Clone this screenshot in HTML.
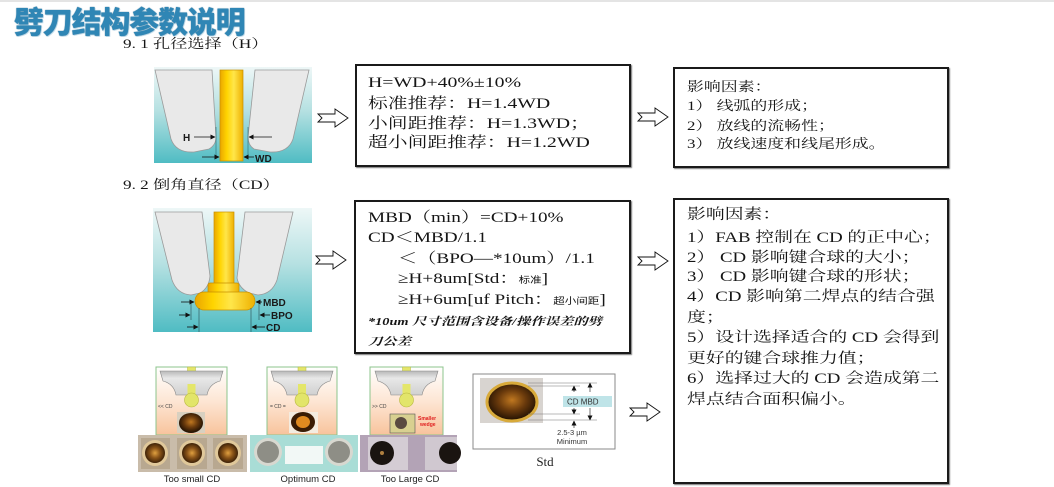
<!DOCTYPE html>
<html><head><meta charset="utf-8">
<style>
html,body{margin:0;padding:0;background:#fff;}
body{width:1054px;height:487px;position:relative;overflow:hidden;font-family:"Liberation Serif","Noto Serif CJK SC",serif;color:#151515;}
.abs{position:absolute;}
.title{position:absolute;left:14px;top:4px;font-family:"Noto Sans CJK SC","WenQuanYi Zen Hei",sans-serif;font-weight:900;font-size:30px;line-height:32px;color:#2f86b5;letter-spacing:-1.2px;white-space:nowrap;text-shadow:0 0 1px #1d5f85, 1px 1px 0 #cfe6f2;}
.box{position:absolute;border:2px solid #1a1a1a;box-sizing:border-box;background:#fff;box-shadow:1px 1px 1px #777;}
.ln{position:absolute;white-space:nowrap;line-height:20px;height:20px;transform-origin:0 50%;}
.b1{font-size:15px;transform:scaleX(1.32);}
.b2{font-size:13px;transform:scaleX(1.3);}
.b3{font-size:15px;transform:scaleX(1.28);}
.b4{font-size:14.5px;transform:scaleX(1.3);}
.hd{font-size:13px;transform:scaleX(1.32);}
.sm{font-size:9px;font-family:"Noto Sans CJK SC",sans-serif;}
.it{font-size:11px;font-weight:bold;font-style:italic;transform:scaleX(1.3);}
</style></head><body>

<svg class="abs" style="left:0;top:0" width="1054" height="487" viewBox="0 0 1054 487">
<defs>
 <linearGradient id="bg" x1="0" y1="0" x2="0" y2="1">
  <stop offset="0" stop-color="#eef7f7"/><stop offset="0.45" stop-color="#b6e1e2"/><stop offset="1" stop-color="#4fbcc3"/>
 </linearGradient>
 <linearGradient id="gold" x1="0" y1="0" x2="1" y2="0">
  <stop offset="0" stop-color="#eaa600"/><stop offset="0.3" stop-color="#ffd400"/><stop offset="0.6" stop-color="#ffe64a"/><stop offset="1" stop-color="#eeb000"/>
 </linearGradient>
 <linearGradient id="peach" x1="0" y1="0" x2="0" y2="1">
  <stop offset="0" stop-color="#ffffff"/><stop offset="0.5" stop-color="#fde6d4"/><stop offset="1" stop-color="#f8c39c"/>
 </linearGradient>
 <linearGradient id="capg" x1="0" y1="0" x2="0" y2="1">
  <stop offset="0" stop-color="#b8b8b8"/><stop offset="0.3" stop-color="#e8e8e8"/><stop offset="1" stop-color="#d0d0d0"/>
 </linearGradient>
 <radialGradient id="brown" cx="0.5" cy="0.5" r="0.5">
  <stop offset="0" stop-color="#e0a040"/><stop offset="0.5" stop-color="#8a5418"/><stop offset="1" stop-color="#3e2208"/>
 </radialGradient>
 <radialGradient id="ring" cx="0.5" cy="0.45" r="0.5">
  <stop offset="0" stop-color="#c07820"/><stop offset="0.55" stop-color="#6a3a0c"/><stop offset="1" stop-color="#2a1604"/>
 </radialGradient>
 <marker id="ah" markerWidth="5" markerHeight="5" refX="4.5" refY="2.5" orient="auto" markerUnits="userSpaceOnUse">
  <path d="M0,0 L5,2.5 L0,5 Z" fill="#111"/>
 </marker>
</defs>

<rect x="0" y="0" width="1054" height="2" fill="#e4e4e4"/>

<!-- Image 1 -->
<g transform="translate(154,67)">
 <rect width="158" height="96" fill="url(#bg)"/>
 <path d="M1,3 L58,3 L62,70 Q62,78 55,82 L40,85 Q22,86 17,72 Z" fill="#e9e9e9" stroke="#9a9a9a" stroke-width="0.8"/>
 <path d="M101,3 L155,3 L139,72 Q134,86 116,85 L100,82 Q94,78 94,70 Z" fill="#e9e9e9" stroke="#9a9a9a" stroke-width="0.8"/>
 <rect x="66" y="3" width="23" height="91" fill="url(#gold)" stroke="#c89000" stroke-width="0.7"/>
 <line x1="62" y1="60" x2="62" y2="92" stroke="#2b6b70" stroke-width="0.6"/>
 <line x1="94" y1="60" x2="94" y2="92" stroke="#2b6b70" stroke-width="0.6"/>
 <line x1="40" y1="70" x2="61" y2="70" stroke="#111" stroke-width="0.8" marker-end="url(#ah)"/>
 <line x1="118" y1="70" x2="95" y2="70" stroke="#111" stroke-width="0.8" marker-end="url(#ah)"/>
 <text x="29" y="74" font-family="Liberation Sans" font-weight="bold" font-size="10" fill="#1a1a1a">H</text>
 <line x1="48" y1="90" x2="65" y2="90" stroke="#111" stroke-width="0.8" marker-end="url(#ah)"/>
 <line x1="100" y1="90" x2="90" y2="90" stroke="#111" stroke-width="0.8" marker-end="url(#ah)"/>
 <text x="101" y="95" font-family="Liberation Sans" font-weight="bold" font-size="10" fill="#1a1a1a">WD</text>
</g>

<!-- Image 2 -->
<g transform="translate(153,208)">
 <rect width="159" height="124" fill="url(#bg)"/>
 <path d="M2,4 L49,4 L57,68 Q56,80 47,85 L38,87 Q24,86 19,72 Z" fill="#e9e9e9" stroke="#9a9a9a" stroke-width="0.8"/>
 <path d="M92,4 L140,4 L124,72 Q119,86 105,87 L96,85 Q86,80 84,70 Z" fill="#e9e9e9" stroke="#9a9a9a" stroke-width="0.8"/>
 <rect x="61" y="4" width="20" height="72" fill="url(#gold)" stroke="#c89000" stroke-width="0.7"/>
 <rect x="55" y="75" width="31" height="11" rx="2" fill="url(#gold)" stroke="#c89000" stroke-width="0.7"/>
 <rect x="42" y="84" width="60" height="18" rx="9" fill="url(#gold)" stroke="#c89000" stroke-width="0.7"/>
 <line x1="28" y1="94" x2="41" y2="94" stroke="#111" stroke-width="0.8" marker-end="url(#ah)"/>
 <line x1="109" y1="94" x2="103" y2="94" stroke="#111" stroke-width="0.8" marker-end="url(#ah)"/>
 <text x="110" y="98" font-family="Liberation Sans" font-weight="bold" font-size="10" fill="#1a1a1a">MBD</text>
 <line x1="38" y1="96" x2="38" y2="112" stroke="#2b4b50" stroke-width="0.6"/>
 <line x1="106" y1="96" x2="106" y2="112" stroke="#2b4b50" stroke-width="0.6"/>
 <line x1="26" y1="107" x2="37" y2="107" stroke="#111" stroke-width="0.8" marker-end="url(#ah)"/>
 <line x1="117" y1="107" x2="107" y2="107" stroke="#111" stroke-width="0.8" marker-end="url(#ah)"/>
 <text x="118" y="111" font-family="Liberation Sans" font-weight="bold" font-size="10" fill="#1a1a1a">BPO</text>
 <line x1="46" y1="100" x2="46" y2="124" stroke="#2b4b50" stroke-width="0.6"/>
 <line x1="98" y1="100" x2="98" y2="124" stroke="#2b4b50" stroke-width="0.6"/>
 <line x1="34" y1="119" x2="45" y2="119" stroke="#111" stroke-width="0.8" marker-end="url(#ah)"/>
 <line x1="112" y1="119" x2="99" y2="119" stroke="#111" stroke-width="0.8" marker-end="url(#ah)"/>
 <text x="113" y="123" font-family="Liberation Sans" font-weight="bold" font-size="10" fill="#1a1a1a">CD</text>
</g>

<!-- Arrows -->
<g fill="#fff" stroke="#111" stroke-width="0.9">
 <polygon points="318,114 335,114 335,109 348,118 335,127 335,122 318,122 322,118"/>
 <polygon points="638,113 655,113 655,108 668,117 655,126 655,121 638,121 642,117"/>
 <polygon points="316,256 333,256 333,251 346,260 333,269 333,264 316,264 320,260"/>
 <polygon points="638,257 655,257 655,252 668,261 655,270 655,265 638,265 642,261"/>
 <polygon points="630,408 647,408 647,403 660,412 647,421 647,416 630,416 634,412"/>
</g>

<!-- Bottom panels -->
<g>
 <rect x="156" y="367" width="71" height="68" fill="url(#peach)" stroke="#8cc48c" stroke-width="1"/>
 <rect x="187.5" y="367" width="8" height="10" fill="#e4e66a" stroke="#b8b840" stroke-width="0.5"/>
 <path d="M160,371 L223,371 L220,381 Q209,384 207,395 L176,395 Q174,384 163,381 Z" fill="url(#capg)" stroke="#888" stroke-width="0.6"/>
 <rect x="187.5" y="384" width="8" height="11" fill="#e4e66a"/>
 <circle cx="191.5" cy="400" r="7" fill="#e2e56a" stroke="#b8b840" stroke-width="0.6"/>
 <text x="158" y="408" font-family="Liberation Sans" font-size="5" fill="#444">&lt;&lt; CD</text>
 <rect x="177" y="412" width="28" height="21" fill="#d8d0c0"/>
 <ellipse cx="191" cy="423" rx="12" ry="10" fill="url(#ring)"/>

 <rect x="267" y="367" width="70" height="68" fill="url(#peach)" stroke="#8cc48c" stroke-width="1"/>
 <rect x="298" y="367" width="8" height="10" fill="#e4e66a" stroke="#b8b840" stroke-width="0.5"/>
 <path d="M271,371 L333,371 L330,381 Q319,384 317,395 L287,395 Q285,384 274,381 Z" fill="url(#capg)" stroke="#888" stroke-width="0.6"/>
 <rect x="298" y="384" width="8" height="11" fill="#e4e66a"/>
 <circle cx="302" cy="400" r="7" fill="#e2e56a" stroke="#b8b840" stroke-width="0.6"/>
 <text x="270" y="408" font-family="Liberation Sans" font-size="5" fill="#444">= CD =</text>
 <rect x="289" y="412" width="29" height="21" fill="#f4ece0"/>
 <ellipse cx="303" cy="422" rx="12" ry="10" fill="#3a1c04"/>
 <ellipse cx="303" cy="422" rx="7" ry="6" fill="#e08a20"/>

 <rect x="370" y="367" width="73" height="68" fill="url(#peach)" stroke="#8cc48c" stroke-width="1"/>
 <rect x="402.5" y="367" width="8" height="10" fill="#e4e66a" stroke="#b8b840" stroke-width="0.5"/>
 <path d="M375,371 L438,371 L435,381 Q424,384 422,395 L391,395 Q389,384 378,381 Z" fill="url(#capg)" stroke="#888" stroke-width="0.6"/>
 <rect x="402.5" y="384" width="8" height="11" fill="#e4e66a"/>
 <circle cx="406.5" cy="400" r="7" fill="#e2e56a" stroke="#b8b840" stroke-width="0.6"/>
 <text x="372" y="408" font-family="Liberation Sans" font-size="5" fill="#444">&gt;&gt; CD</text>
 <rect x="390" y="414" width="25" height="19" fill="#d8d090" stroke="#555" stroke-width="0.6"/>
 <circle cx="401" cy="423" r="6" fill="#5a4a40"/>
 <text x="418" y="420" font-family="Liberation Sans" font-weight="bold" font-size="5" fill="#e02020">Smaller</text>
 <text x="420" y="426" font-family="Liberation Sans" font-weight="bold" font-size="5" fill="#e02020">wedge</text>

 <rect x="138" y="435" width="109" height="37" fill="#c9bcaa"/>
 <rect x="141" y="438" width="29" height="31" fill="#b8a890"/>
 <rect x="177" y="438" width="30" height="31" fill="#b8a890"/>
 <rect x="213" y="438" width="30" height="31" fill="#b8a890"/>
 <circle cx="155" cy="453" r="13" fill="#e0c89a"/><circle cx="155" cy="453" r="10" fill="url(#brown)"/>
 <circle cx="192" cy="453" r="13" fill="#e0c89a"/><circle cx="192" cy="453" r="10" fill="url(#brown)"/>
 <circle cx="228" cy="453" r="13" fill="#e0c89a"/><circle cx="228" cy="453" r="10" fill="url(#brown)"/>

 <rect x="250" y="435" width="108" height="37" fill="#a9ddd6"/>
 <rect x="285" y="446" width="38" height="18" fill="#f2f8f6"/>
 <circle cx="268" cy="452" r="14" fill="#d8d8d0"/><circle cx="268" cy="452" r="11" fill="#8e8e86"/>
 <circle cx="339" cy="452" r="14" fill="#d8d8d0"/><circle cx="339" cy="452" r="11" fill="#8e8e86"/>

 <rect x="360" y="435" width="97" height="37" fill="#b3a3b6"/>
 <rect x="368" y="437" width="40" height="33" fill="#d4ccd4"/>
 <rect x="425" y="437" width="32" height="33" fill="#d0c8d0"/>
 <circle cx="382" cy="453" r="12" fill="#1a1410"/><circle cx="382" cy="453" r="2" fill="#b08040"/>
 <circle cx="450" cy="453" r="11" fill="#1a1410"/>

 <text x="192" y="482" text-anchor="middle" font-family="Liberation Sans" font-size="9.5" fill="#222">Too small CD</text>
 <text x="308" y="482" text-anchor="middle" font-family="Liberation Sans" font-size="9.5" fill="#222">Optimum CD</text>
 <text x="410" y="482" text-anchor="middle" font-family="Liberation Sans" font-size="9.5" fill="#222">Too Large CD</text>
</g>

<!-- Std image -->
<g>
 <rect x="473" y="374" width="142" height="75" fill="#fff" stroke="#8a8a8a" stroke-width="1"/>
 <rect x="480" y="378" width="63" height="45" fill="#d8d4d0"/>
 <ellipse cx="512" cy="402" rx="25" ry="19" fill="url(#ring)" stroke="#d8aa3a" stroke-width="3"/>
 <g stroke="#777" stroke-width="0.6">
  <line x1="528" y1="383" x2="597" y2="383"/>
  <line x1="528" y1="386" x2="580" y2="386"/>
  <line x1="528" y1="414" x2="580" y2="414"/>
  <line x1="528" y1="420" x2="597" y2="420"/>
 </g>
 <line x1="574" y1="392" x2="574" y2="386" stroke="#333" stroke-width="0.7" marker-end="url(#ah)"/>
 <line x1="574" y1="408" x2="574" y2="414" stroke="#333" stroke-width="0.7" marker-end="url(#ah)"/>
 <line x1="590" y1="392" x2="590" y2="383" stroke="#333" stroke-width="0.7" marker-end="url(#ah)"/>
 <line x1="590" y1="408" x2="590" y2="420" stroke="#333" stroke-width="0.7" marker-end="url(#ah)"/>
 <line x1="574" y1="428" x2="574" y2="421" stroke="#333" stroke-width="0.7" marker-end="url(#ah)"/>
 <rect x="563" y="396" width="49" height="11" fill="#bfe4e8"/>
 <text x="567" y="404.5" font-family="Liberation Sans" font-size="8" fill="#333">CD  MBD</text>
 <text x="572" y="435" text-anchor="middle" font-family="Liberation Sans" font-size="7.5" fill="#333">2.5-3 µm</text>
 <text x="572" y="444" text-anchor="middle" font-family="Liberation Sans" font-size="7.5" fill="#333">Minimum</text>
 <text x="545" y="466" text-anchor="middle" font-family="Liberation Serif" font-size="13" fill="#222">Std</text>
</g>
</svg>

<div class="title">劈刀结构参数说明</div>
<div class="ln hd" style="left:123px;top:34px;">9. 1 孔径选择（H）</div>
<div class="ln hd" style="left:123px;top:175px;">9. 2 倒角直径（CD）</div>

<div class="box" style="left:355px;top:64px;width:276px;height:103px;"></div>
<div class="ln b1" style="left:368px;top:73px;">H=WD+40%±10%</div>
<div class="ln b1" style="left:368px;top:94px;">标准推荐：H=1.4WD</div>
<div class="ln b1" style="left:368px;top:114px;">小间距推荐：H=1.3WD；</div>
<div class="ln b1" style="left:368px;top:133px;">超小间距推荐：H=1.2WD</div>

<div class="box" style="left:673px;top:67px;width:276px;height:101px;"></div>
<div class="ln b2" style="left:687px;top:77px;">影响因素：</div>
<div class="ln b2" style="left:687px;top:96px;">1） 线弧的形成；</div>
<div class="ln b2" style="left:687px;top:116px;">2） 放线的流畅性；</div>
<div class="ln b2" style="left:687px;top:134px;">3） 放线速度和线尾形成。</div>

<div class="box" style="left:354px;top:200px;width:277px;height:154px;"></div>
<div class="ln b3" style="left:368px;top:208px;">MBD（min）=CD+10%</div>
<div class="ln b3" style="left:368px;top:228px;">CD＜MBD/1.1</div>
<div class="ln b3" style="left:398px;top:249px;">＜（BPO—*10um）/1.1</div>
<div class="ln b3" style="left:398px;top:269px;">≥H+8um[Std：<span class="sm">标准</span>]</div>
<div class="ln b3" style="left:398px;top:290px;">≥H+6um[uf Pitch：<span class="sm">超小间距</span>]</div>
<div class="ln it" style="left:368px;top:312px;">*10um 尺寸范围含设备/操作误差的劈</div>
<div class="ln it" style="left:368px;top:332px;">刀公差</div>

<div class="box" style="left:673px;top:198px;width:276px;height:286px;"></div>
<div class="ln b4" style="left:687px;top:205px;">影响因素：</div>
<div class="ln b4" style="left:687px;top:228px;">1）FAB 控制在 CD 的正中心；</div>
<div class="ln b4" style="left:687px;top:248px;">2） CD 影响键合球的大小；</div>
<div class="ln b4" style="left:687px;top:267px;">3） CD 影响键合球的形状；</div>
<div class="ln b4" style="left:687px;top:287px;">4）CD 影响第二焊点的结合强</div>
<div class="ln b4" style="left:687px;top:308px;">度；</div>
<div class="ln b4" style="left:687px;top:328px;">5）设计选择适合的 CD 会得到</div>
<div class="ln b4" style="left:687px;top:349px;">更好的键合球推力值；</div>
<div class="ln b4" style="left:687px;top:369px;">6）选择过大的 CD 会造成第二</div>
<div class="ln b4" style="left:687px;top:390px;">焊点结合面积偏小。</div>

</body></html>
